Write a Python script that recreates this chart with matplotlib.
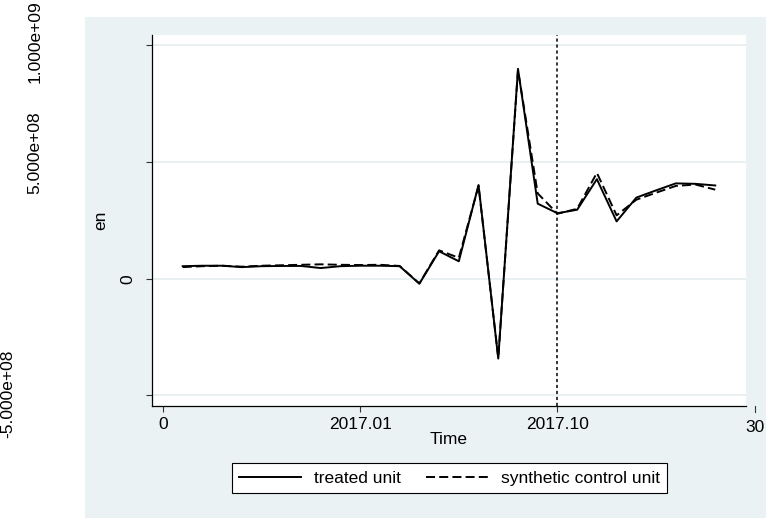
import matplotlib
matplotlib.use("Agg")
import matplotlib.pyplot as plt
import matplotlib.transforms as mtransforms
from matplotlib.patches import Rectangle

plt.rcParams['font.family'] = ['Liberation Sans', 'DejaVu Sans']
plt.rcParams['lines.scale_dashes'] = False

# ---- data ----
time = list(range(1, 29))
treated = [5.4e7, 5.6e7, 5.6e7, 5.0e7, 5.4e7, 5.5e7, 5.5e7, 4.6e7, 5.4e7, 5.6e7,
           5.6e7, 5.4e7, -2.1e7, 1.18e8, 7.5e7, 4.02e8, -3.42e8, 9.0e8, 3.22e8, 2.81e8,
           2.96e8, 4.27e8, 2.46e8, 3.48e8, 3.79e8, 4.09e8, 4.07e8, 4.0e8]
synthetic = [5.0e7, 5.4e7, 5.6e7, 5.2e7, 5.6e7, 5.8e7, 6.0e7, 6.2e7, 6.0e7, 5.9e7,
             6.0e7, 5.5e7, -2.0e7, 1.22e8, 9.0e7, 3.98e8, -3.40e8, 8.95e8, 3.66e8, 2.79e8,
             3.0e8, 4.54e8, 2.72e8, 3.39e8, 3.69e8, 3.98e8, 4.04e8, 3.82e8]
treat_time = 20
x_ticks = [0, 10, 20, 30]
x_tick_labels = ["0", "2017.01", "2017.10", "30"]
y_ticks = [-5e8, 0, 5e8, 1e9]
y_tick_labels = ["-5.000e+08", "0", "5.000e+08", "1.000e+09"]
legend_labels = ["treated unit", "synthetic control unit"]

FS = 12.5
W, H = 766, 518
fig = plt.figure(figsize=(W / 100, H / 100), dpi=100)
fig.patch.set_facecolor('white')
bg = '#EAF2F3'
fig.patches.append(Rectangle((85 / W, 0), 1 - 85 / W, (H - 17) / H,
                             transform=fig.transFigure, facecolor=bg,
                             edgecolor='none', zorder=-10))

ax = fig.add_axes([152.3 / W, (H - 405.7) / H, (746 - 152.3) / W, (405.7 - 35) / H])
ax.set_zorder(1)
ax.set_facecolor('white')
ax.set_xlim(-0.54, 29.56)
ax.set_ylim(-5.44e8, 1.045e9)

for s in ['top', 'right']:
    ax.spines[s].set_visible(False)
for s in ['left', 'bottom']:
    ax.spines[s].set_linewidth(0.9)
    ax.spines[s].set_color('black')

# grid
for v in y_ticks:
    ax.axhline(v, color='#E3ECEE', lw=1.1, zorder=1)

ax.plot(time, treated, color='black', lw=1.4, zorder=3, label=legend_labels[0])
ax.plot(time, synthetic, color='black', lw=1.4, dashes=(6.5, 3.0), zorder=3,
        label=legend_labels[1])
ax.axvline(treat_time, color='black', lw=1.1, dashes=(2.3, 2.0), zorder=2)

# x ticks (inside limits)
in_ticks = [t for t in x_ticks if ax.get_xlim()[0] <= t <= ax.get_xlim()[1]]
in_labels = [l for t, l in zip(x_ticks, x_tick_labels) if t in in_ticks]
ax.set_xticks(in_ticks)
ax.set_xticklabels(in_labels, fontsize=FS)
ax.tick_params(axis='x', length=4.3, width=0.8, color='#333333', pad=3.5)
# ticks outside the axis range (Stata draws them anyway)
trans_x = mtransforms.blended_transform_factory(ax.transData, ax.transAxes)
for t, l in zip(x_ticks, x_tick_labels):
    if t not in in_ticks:
        ax.plot([t, t], [0, -0.0165], transform=trans_x, color='#333333', lw=0.8,
                clip_on=False)
        ax.text(t, -0.0385, l, transform=trans_x, ha='center', va='top',
                fontsize=FS, clip_on=False)

# y ticks
ax.set_yticks(y_ticks)
ax.set_yticklabels([""] * len(y_ticks))
ax.tick_params(axis='y', length=4.3, width=0.8, color='#333333')
label_x_px = {"-5.000e+08": 8, "0": 128, "5.000e+08": 35, "1.000e+09": 35}
label_dy_px = {"-5.000e+08": 2, "0": 0, "5.000e+08": 9, "1.000e+09": 3.5}
for v, l in zip(y_ticks, y_tick_labels):
    tr = mtransforms.blended_transform_factory(fig.transFigure, ax.transData) + \
        mtransforms.ScaledTranslation(0, label_dy_px[l] / 100, fig.dpi_scale_trans)
    fig.text(label_x_px[l] / W, v, l, transform=tr, rotation=90, ha='center',
             va='center', fontsize=FS)

fig.text(101 / W, 1 - 220 / H, "en", rotation=90, ha='center', va='center', fontsize=FS)
fig.text(449 / W, 1 - 440 / H, "Time", ha='center', va='center', fontsize=FS)

leg = fig.legend(loc='center', bbox_to_anchor=(449.5 / W, 1 - 478 / H), ncol=2,
                 fontsize=FS, frameon=True, fancybox=False, edgecolor='black',
                 framealpha=1, handlelength=3.6, handletextpad=0.7,
                 columnspacing=1.5, borderpad=0.4, borderaxespad=0)
leg.get_frame().set_linewidth(0.8)

fig.savefig("out.png", dpi=100, facecolor=fig.get_facecolor())
